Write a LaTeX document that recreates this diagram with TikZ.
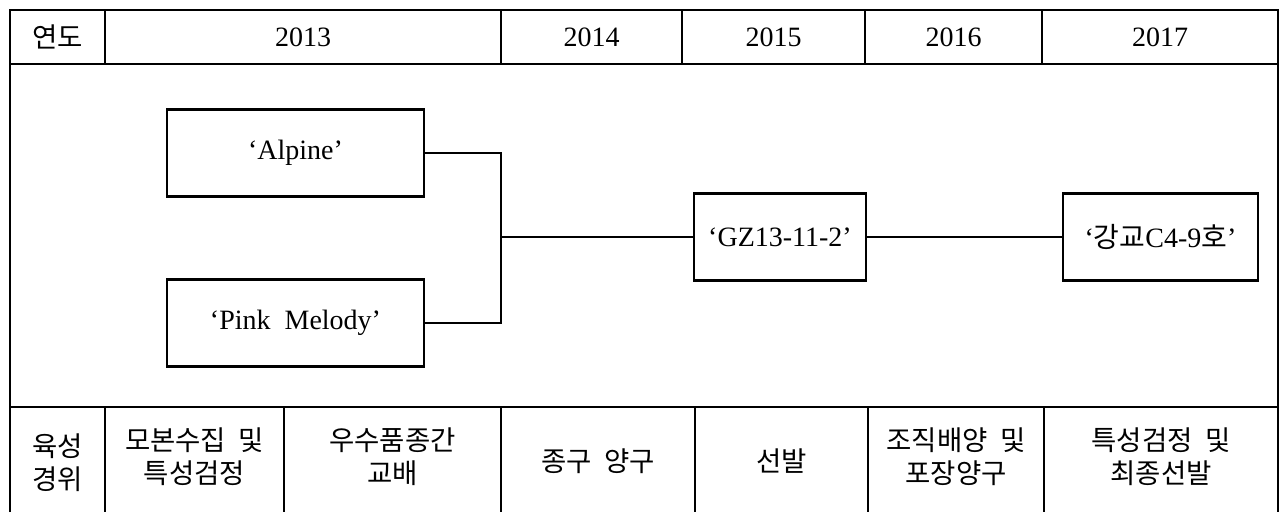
\documentclass[tikz,border=0pt]{standalone}
\usepackage{fontspec}
\setmainfont{Liberation Serif}
\newfontfamily\kr{Noto Sans CJK KR}

\begin{document}
\begin{tikzpicture}[-,x=1pt,y=-1pt,line width=2.7pt,
    box/.style={draw,minimum height=87pt,inner sep=0pt,font=\fontsize{28}{32}\selectfont},
    year/.style={font=\fontsize{28}{32}\selectfont},
    stage/.style={align=center,inner sep=0pt,font=\kr\fontsize{27.5}{33}\selectfont}]
        \useasboundingbox (0,0) rectangle (1284,512);
        % table frame
        \draw (10,512) -- (10,10) -- (1278,10) -- (1278,512);
        \draw (10,64) -- (1278,64);
        \draw (10,407) -- (1278,407);
        \foreach \x in {105,501,682,865,1042} \draw (\x,10) -- (\x,64);
        \foreach \x in {105,284,501,695,868,1044} \draw (\x,407) -- (\x,512);
        % header
        \node [stage] (yr) at (57.5,37) {연도};
        \node [year] (y13) at (303,37) {2013};
        \node [year] (y14) at (591.5,37) {2014};
        \node [year] (y15) at (773.5,37) {2015};
        \node [year] (y16) at (953.5,37) {2016};
        \node [year] (y17) at (1160,37) {2017};
        % pedigree
        \node [box, minimum width=257pt] (alpine) at (295.5,153) {‘Alpine’};
        \node [box, minimum width=257pt] (pink) at (295.5,323) {‘Pink~~Melody’};
        \node [box, minimum width=172pt] (gz) at (780,237) {‘GZ13-11-2’};
        \node [box, minimum width=195pt] (kang) at (1160.5,237) {‘{\kr 강교}C4-9{\kr 호}’};
        \coordinate (join) at (501,237);
        \draw (alpine.east) -| (join) |- (pink.east);
        \path [draw] (join) edge (gz.west);
        \path [draw] (gz) edge (kang);
        % stages
        \node [stage] (s0) at (57.5,463) {육성\\경위};
        \node [stage] (s1) at (194.5,457) {모본수집~~및\\특성검정};
        \node [stage] (s2) at (392.5,457) {우수품종간\\교배};
        \node [stage] (s3) at (598,461) {종구~~양구};
        \node [stage] (s4) at (781.5,461) {선발};
        \node [stage] (s5) at (956,457) {조직배양~~및\\포장양구};
        \node [stage] (s6) at (1161,457) {특성검정~~및\\최종선발};
    \end{tikzpicture}
\end{document}
